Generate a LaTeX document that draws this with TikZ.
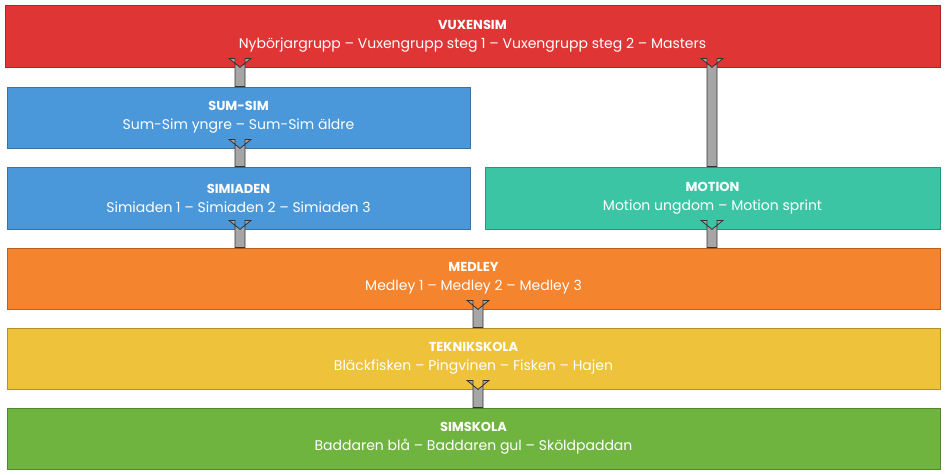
\documentclass[tikz,border=0pt]{standalone}
\usepackage{fontspec}
\setmainfont{Poppins}
\usetikzlibrary{calc}
\definecolor{cred}{HTML}{E03535}
\definecolor{cblue}{HTML}{4A98DA}
\definecolor{cteal}{HTML}{3CC5A5}
\definecolor{corange}{HTML}{F5842E}
\definecolor{cyellow}{HTML}{EEC23A}
\definecolor{cgreen}{HTML}{70B440}
\definecolor{cgray}{HTML}{A6A6A6}
\newcommand{\ttlf}{\fontsize{13}{15}\selectfont\bfseries}
\begin{document}
\begin{tikzpicture}[x=1pt,y=-1pt,
  box/.style={draw=#1!75!black,fill=#1,line width=0.8pt,text=white,align=center,
    font=\fontsize{14}{19}\selectfont,inner sep=0pt},
  uarr/.style={draw=black!80,fill=cgray,line width=0.8pt}]
\useasboundingbox (0,0) rectangle (945,474);
\tikzset{rb/.style n args={4}{minimum width=#3-#1,minimum height=#4-#2}}
\node[box=cred,rb={5}{5}{940}{67}] (vux) at (472.5,36) {{\ttlf VUXENSIM}\\Nybörjargrupp – Vuxengrupp steg 1 – Vuxengrupp steg 2 – Masters};
\node[box=cblue,rb={7}{87}{470}{148}] (sum) at (238.5,117.5) {{\ttlf SUM-SIM}\\Sum-Sim yngre – Sum-Sim äldre};
\node[box=cblue,rb={7}{167}{470}{229}] (sia) at (238.5,198) {{\ttlf SIMIADEN}\\Simiaden 1 – Simiaden 2 – Simiaden 3};
\node[box=cteal,rb={485}{167}{940}{229}] (mot) at (712.5,198) {{\ttlf MOTION}\\Motion ungdom – Motion sprint};
\node[box=corange,rb={7}{248}{940}{309}] (med) at (473.5,278.5) {{\ttlf MEDLEY}\\Medley 1 – Medley 2 – Medley 3};
\node[box=cyellow,rb={7}{328}{940}{389}] (tek) at (473.5,358.5) {{\ttlf TEKNIKSKOLA}\\Bläckfisken – Pingvinen – Fisken – Hajen};
\node[box=cgreen,rb={7}{408}{940}{469}] (sim) at (473.5,438.5) {{\ttlf SIMSKOLA}\\Baddaren blå – Baddaren gul – Sköldpaddan};
\newcommand{\blockarr}[3]{%
  \path[uarr] let \p1=(#1.north), \p2=(#2.south) in
   (#3-5,\y1) -- (#3-5,\y2+9) -- (#3-11,\y2+9) -- (#3,\y2) -- (#3+11,\y2+9) -- (#3+5,\y2+9) -- (#3+5,\y1) -- cycle;}
\blockarr{sum}{vux}{240}
\blockarr{sia}{sum}{240}
\blockarr{med}{sia}{240}
\blockarr{med}{mot}{712}
\blockarr{mot}{vux}{712}
\blockarr{tek}{med}{478}
\blockarr{sim}{tek}{478}
\end{tikzpicture}
\end{document}
